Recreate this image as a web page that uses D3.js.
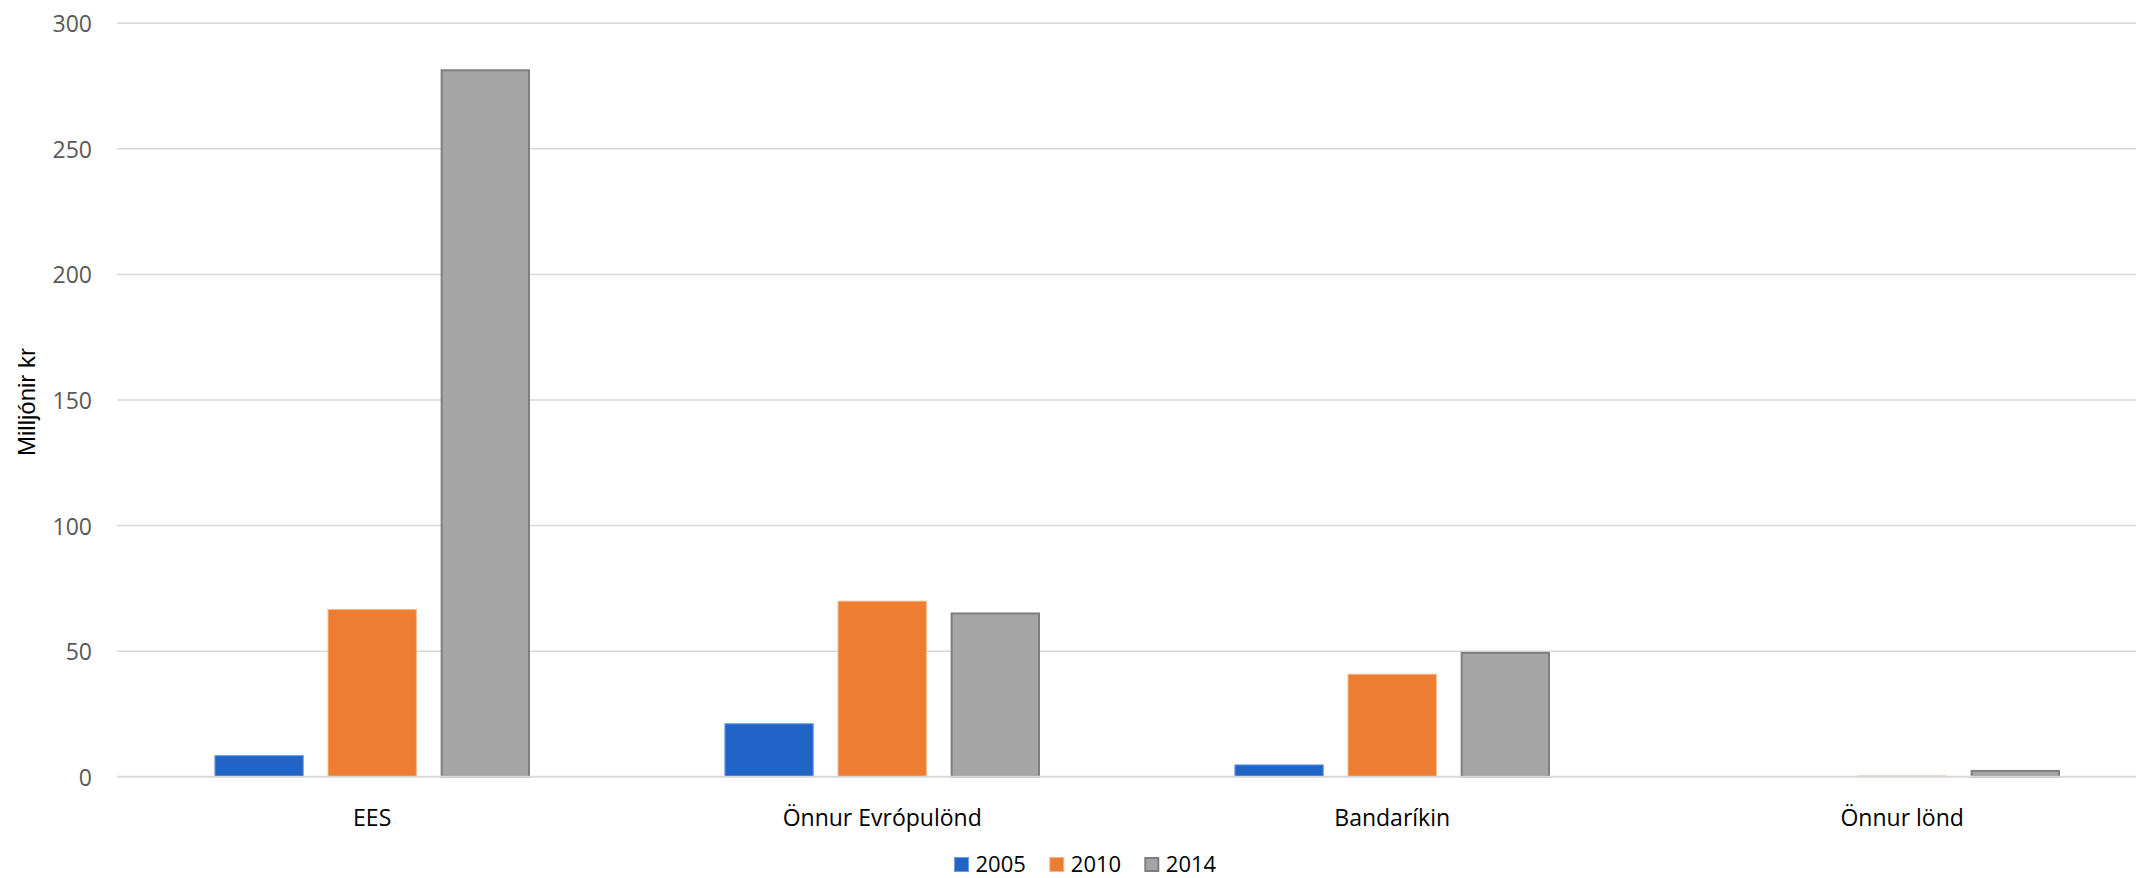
<!DOCTYPE html>
<html>
<head>
<meta charset="utf-8">
<script src="https://cdn.jsdelivr.net/npm/d3@7/dist/d3.min.js"></script>
<style>
  html, body { margin: 0; padding: 0; background: #ffffff; }
  svg { display: block; }
</style>
</head>
<body>
<svg id="chart" width="2136" height="878"></svg>
<script>
const categories = ["EES", "Önnur Evrópulönd", "Bandaríkin", "Önnur lönd"];
const seriesNames = ["2005", "2010", "2014"];
const values2005 = [8.6, 21.3, 4.9, 0];
const values2010 = [66.8, 70.1, 41.0, 0.5];
const values2014 = [281.7, 65.4, 49.7, 2.7];
const yTicks = [0, 50, 100, 150, 200, 250, 300];
const yTitle = "Milljónir kr";

const seriesValues = [values2005, values2010, values2014];
const colors = ["#2064c8", "#ed7d31", "#a5a5a5"];
const strokes = ["#6e9fe6", "#f6b98e", "#7f7f7f"];
const strokeW = [1, 1, 2];

const svg = d3.select("#chart");
const W = 2136, H = 878;
const plotLeft = 117, plotRight = 2136;

const y = d3.scaleLinear().domain([0, 300]).range([776.7, 23.3]);
const x0 = d3.scaleBand().domain(categories).range([117.2, 2157.2]).padding(0);
const x1 = d3.scaleBand().domain(seriesNames).range([97.2, 412.8]).paddingInner(0.21).paddingOuter(0);

// gridlines
svg.append("g").selectAll("line").data(yTicks.filter(d => d !== 0)).join("line")
  .attr("x1", plotLeft).attr("x2", plotRight)
  .attr("y1", d => y(d)).attr("y2", d => y(d))
  .attr("stroke", "#d9d9d9").attr("stroke-width", 1.5);

// y tick labels
svg.append("g").selectAll("text").data(yTicks).join("text")
  .attr("x", 92).attr("y", d => y(d))
  .attr("text-anchor", "end").attr("dominant-baseline", "central")
  .attr("font-family", "'Open Sans', sans-serif").attr("font-size", 23)
  .attr("fill", "#595959")
  .text(d => d);

// y title
svg.append("text")
  .attr("transform", "translate(35,402) rotate(-90)")
  .attr("text-anchor", "middle")
  .attr("font-family", "'Liberation Sans', Arial, sans-serif").attr("font-size", 24)
  .attr("fill", "#000000")
  .text(yTitle);

// bars
const groups = svg.append("g").selectAll("g").data(categories).join("g")
  .attr("transform", d => `translate(${x0(d)},0)`);

groups.each(function(cat, ci) {
  const g = d3.select(this);
  seriesNames.forEach((s, si) => {
    const v = seriesValues[si][ci];
    if (v <= 0) return;
    const sw = strokeW[si];
    const x = x1(s) + sw / 2;
    const w = x1.bandwidth() - sw;
    const top = y(v) + sw / 2;
    const h = Math.max(0.5, y(0) - y(v) - sw / 2);
    g.append("rect")
      .attr("x", x).attr("y", top)
      .attr("width", w).attr("height", h)
      .attr("fill", colors[si])
      .attr("stroke", strokes[si]).attr("stroke-width", sw);
  });
});

// baseline
svg.append("line")
  .attr("x1", plotLeft).attr("x2", plotRight)
  .attr("y1", y(0)).attr("y2", y(0))
  .attr("stroke", "#d9d9d9").attr("stroke-width", 2);

// category labels
svg.append("g").selectAll("text").data(categories).join("text")
  .attr("x", d => x0(d) + x0.bandwidth() / 2).attr("y", 826)
  .attr("text-anchor", "middle")
  .attr("font-family", "'Open Sans', sans-serif").attr("font-size", 23)
  .attr("fill", "#000000")
  .text(d => d);

// legend
const legendX = [954, 1049.3, 1144.3];
const leg = svg.append("g");
seriesNames.forEach((s, i) => {
  leg.append("rect")
    .attr("x", legendX[i] + strokeW[i] / 2).attr("y", 857 + strokeW[i] / 2)
    .attr("width", 15 - strokeW[i]).attr("height", 15 - strokeW[i])
    .attr("fill", colors[i]).attr("stroke", strokes[i]).attr("stroke-width", strokeW[i]);
  leg.append("text")
    .attr("x", legendX[i] + 21.5).attr("y", 871.5)
    .attr("font-family", "'Open Sans', sans-serif").attr("font-size", 22)
    .attr("fill", "#000000")
    .text(s);
});
</script>
</body>
</html>
